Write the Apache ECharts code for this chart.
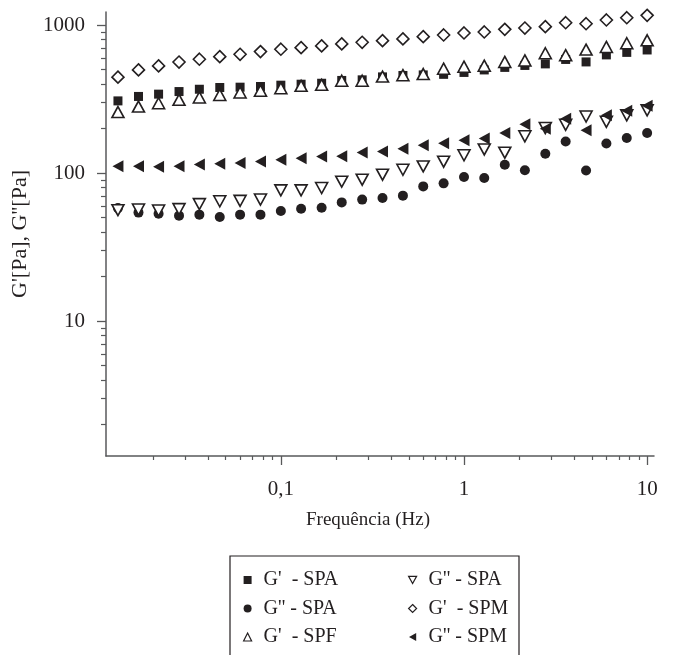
<!DOCTYPE html>
<html><head><meta charset="utf-8">
<script src="https://cdn.jsdelivr.net/npm/echarts@6/dist/echarts.min.js"></script>
<style>html,body{margin:0;padding:0;background:#fff}#c{width:676px;height:655px}</style>
</head><body><div id="c"></div>
<script>
// Frequency (Hz) of each measured point
const freq = [0.0129, 0.0167, 0.0215, 0.0278, 0.0359, 0.0464, 0.0599, 0.0774, 0.1,
  0.129, 0.167, 0.215, 0.278, 0.359, 0.464, 0.599, 0.774, 1,
  1.29, 1.67, 2.15, 2.78, 3.59, 4.64, 5.99, 7.74, 10];

// G' - SPA (filled squares)
const gpSPA = [307, 329, 341, 355, 368, 378, 380, 384, 392, 398, 404, 422, 426, 446, 456, 460,
  464, 478, 497, 517, 533, 546, 585, 563, 628, 653, 678];
// G'' - SPA (filled circles)
const gppSPA = [57.9, 54.0, 53.1, 51.5, 52.3, 50.4, 52.3, 52.3, 55.3, 57.4, 58.3, 63.3, 66.1, 67.8,
  70.3, 81.2, 85.1, 93.9, 92.5, 113.8, 104.4, 134.9, 163.3, 103.9, 158.4, 172.2, 186.1];
// G' - SPF (open up triangles)
const gpSPF = [258, 281, 296, 312, 324, 337, 350, 360, 374, 388, 394, 420, 420, 448, 458, 466,
  507, 523, 531, 563, 576, 644, 625, 682, 711, 753, 788];
// G'' - SPA (open down triangles)
const gppSPAb = [56.1, 56.6, 55.7, 57.0, 61.6, 64.4, 64.8, 66.1, 76.3, 76.3, 79.2, 87.4, 90.1, 97.4,
  105.2, 110.8, 119.2, 131.8, 144.2, 137.1, 177, 201.1, 211.7, 240.8, 221.8, 245.4, 265.1];
// G' - SPM (open diamonds)
const gpSPM = [444, 497, 529, 562, 587, 611, 634, 661, 686, 703, 722, 745, 764, 784, 805, 834,
  856, 883, 897, 935, 954, 974, 1036, 1020, 1081, 1120, 1162];
// G'' - SPM (filled left triangles)
const gppSPM = [111, 111, 110, 111, 114, 115.5, 116.8, 119.8, 123, 126, 129.4, 129.8, 137.7, 139.9,
  145.9, 154, 158.9, 166.4, 170.9, 186.1, 213.4, 198.9, 232.4, 194.3, 245.4, 263, 284.3];

// Tick values
const xMajor = [0.1, 1, 10];
const xMinor = [0.02, 0.03, 0.04, 0.05, 0.06, 0.07, 0.08, 0.09,
  0.2, 0.3, 0.4, 0.5, 0.6, 0.7, 0.8, 0.9, 2, 3, 4, 5, 6, 7, 8, 9];
const yMajor = [10, 100, 1000];
const yMinor = [2, 3, 4, 5, 6, 7, 8, 9, 20, 30, 40, 50, 60, 70, 80, 90,
  200, 300, 400, 500, 600, 700, 800, 900];

const FONT = 'Liberation Serif';
const INK = '#231f20';
const AXIS = '#58595b';
const X_MIN = 0.0111, X_MAX = 10.9, Y_MIN = 1.224, Y_MAX = 1224;

const TRI_DOWN = 'path://M0,0 L10,0 L5,9 Z';
const TRI_LEFT = 'path://M9,0 L9,10 L0,5 Z';

const defs = [
  {name: "G'  - SPA", data: gpSPA, symbol: 'rect', icon: 'rect', size: 9, rot: 0, fill: INK, open: false},
  {name: "G'' - SPA", data: gppSPA, symbol: 'circle', icon: 'circle', size: 10, rot: 0, fill: INK, open: false},
  {name: "G'  - SPF", data: gpSPF, symbol: 'triangle', icon: 'triangle', size: [12, 11], rot: 0, fill: '#fff', open: true},
  {name: "G'' - SPA ", data: gppSPAb, symbol: 'triangle', icon: TRI_DOWN, size: [12, 11], rot: 180, fill: '#fff', open: true},
  {name: "G'  - SPM", data: gpSPM, symbol: 'diamond', icon: 'diamond', size: 12, rot: 0, fill: '#fff', open: true},
  {name: "G'' - SPM", data: gppSPM, symbol: 'triangle', icon: TRI_LEFT, size: [12, 11], rot: 90, fill: INK, open: false}
];

const series = defs.map(d => ({
  name: d.name, type: 'scatter', xAxisIndex: 0, yAxisIndex: 0,
  data: freq.map((f, i) => [f, d.data[i]]),
  symbol: d.symbol, symbolSize: d.size, symbolRotate: d.rot,
  itemStyle: {color: d.fill, borderColor: INK, borderWidth: d.open ? 1.6 : 0, opacity: 1},
  emphasis: {disabled: true}, animation: false
}));

const legendItem = d => ({
  name: d.name, icon: d.icon, symbolRotate: 0,
  itemStyle: {color: d.fill, borderColor: INK, borderWidth: d.open ? 1.2 : 0}
});

const legendBase = {
  orient: 'vertical', top: 570, itemWidth: 8, itemHeight: 8, itemGap: 8.5, padding: 0,
  selectedMode: false, symbolKeepAspect: true,
  textStyle: {fontFamily: FONT, fontSize: 20, color: INK, lineHeight: 20, padding: [0, 0, 0, 7]}
};

const labelStyle = {fontFamily: FONT, fontSize: 21, color: INK};
const fmt = v => String(+(+v).toPrecision(3)).replace('.', ',');

const option = {
  backgroundColor: '#fff',
  animation: false,
  grid: {left: 106, top: 12, width: 548, height: 444, containLabel: false},
  xAxis: [
    {type: 'log', logBase: 10, min: X_MIN, max: X_MAX, position: 'bottom',
      axisLine: {show: true, onZero: false, lineStyle: {color: AXIS, width: 1.5}},
      axisTick: {show: true, customValues: xMajor, length: 9, lineStyle: {color: AXIS, width: 1.3}},
      axisLabel: {show: true, customValues: xMajor, formatter: fmt, margin: 23, ...labelStyle},
      splitLine: {show: false},
      name: 'Frequência (Hz)', nameLocation: 'middle', nameGap: 55,
      nameTextStyle: {fontFamily: FONT, fontSize: 19, color: INK, padding: [0, 24, 0, 0]}},
    {type: 'log', logBase: 10, min: X_MIN, max: X_MAX, position: 'bottom',
      axisLine: {show: false, onZero: false},
      axisTick: {show: true, customValues: xMinor, length: 4, lineStyle: {color: AXIS, width: 1.2}},
      axisLabel: {show: false}, splitLine: {show: false}}
  ],
  yAxis: [
    {type: 'log', logBase: 10, min: Y_MIN, max: Y_MAX, position: 'left',
      axisLine: {show: true, onZero: false, lineStyle: {color: AXIS, width: 1.5}},
      axisTick: {show: true, customValues: yMajor, length: 9, lineStyle: {color: AXIS, width: 1.3}},
      axisLabel: {show: true, customValues: yMajor, formatter: fmt, margin: 21, ...labelStyle},
      splitLine: {show: false},
      name: "G'[Pa], G''[Pa]", nameLocation: 'middle', nameGap: 75,
      nameTextStyle: {fontFamily: FONT, fontSize: 22, color: INK}},
    {type: 'log', logBase: 10, min: Y_MIN, max: Y_MAX, position: 'left',
      axisLine: {show: false, onZero: false},
      axisTick: {show: true, customValues: yMinor, length: 5, lineStyle: {color: AXIS, width: 1.2}},
      axisLabel: {show: false}, splitLine: {show: false}}
  ],
  legend: [
    Object.assign({}, legendBase, {left: 243, data: [defs[0], defs[1], defs[2]].map(legendItem)}),
    Object.assign({}, legendBase, {left: 408, data: [defs[3], defs[4], defs[5]].map(legendItem)})
  ],
  graphic: [{
    type: 'rect', silent: true, z: -1,
    shape: {x: 230, y: 556, width: 289, height: 130},
    style: {fill: 'none', stroke: INK, lineWidth: 1.2}
  }],
  series: series
};

const chart = echarts.init(document.getElementById('c'), null, {renderer: 'canvas'});
chart.setOption(option);
</script>
</body></html>
